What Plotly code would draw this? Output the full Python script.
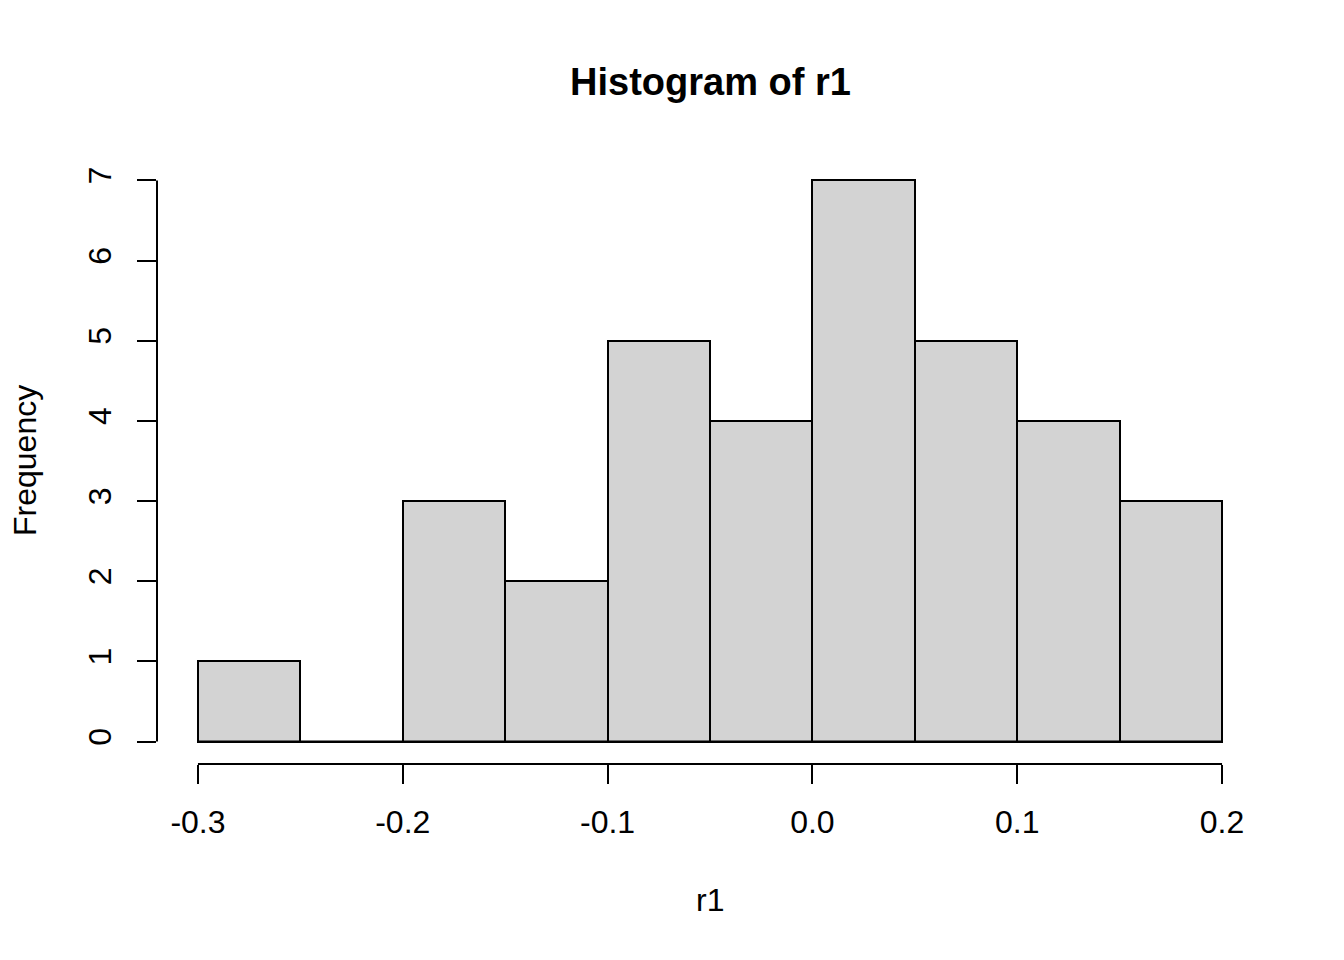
import plotly.graph_objects as go

# Histogram data: bin edges and counts
bin_edges = [-0.30, -0.25, -0.20, -0.15, -0.10, -0.05, 0.00, 0.05, 0.10, 0.15, 0.20]
counts = [1, 0, 3, 2, 5, 4, 7, 5, 4, 3]
x_tick_vals = [-0.3, -0.2, -0.1, 0.0, 0.1, 0.2]
x_tick_text = ["-0.3", "-0.2", "-0.1", "0.0", "0.1", "0.2"]
y_tick_vals = [0, 1, 2, 3, 4, 5, 6, 7]

FONT = "Liberation Sans, Arial, sans-serif"

centers = [(a + b) / 2 for a, b in zip(bin_edges[:-1], bin_edges[1:])]
widths = [b - a for a, b in zip(bin_edges[:-1], bin_edges[1:])]

x_span = bin_edges[-1] - bin_edges[0]
y_max = max(counts)
x_range = [bin_edges[0] - 0.04 * x_span, bin_edges[-1] + 0.04 * x_span]
y_range = [0 - 0.04 * y_max, y_max + 0.04 * y_max]

fig = go.Figure()
fig.add_trace(go.Bar(
    x=centers, y=counts, width=widths,
    marker=dict(color="#D3D3D3", line=dict(color="black", width=2)),
    showlegend=False, hoverinfo="skip",
))
# baseline along bottom of bars (shows empty bins like R)
fig.add_trace(go.Scatter(
    x=[bin_edges[0], bin_edges[-1]], y=[0, 0], mode="lines",
    line=dict(color="black", width=2), showlegend=False, hoverinfo="skip",
))

PH = 607.0
PW = 1106.0
fig.update_layout(
    width=1344, height=960,
    paper_bgcolor="white", plot_bgcolor="white",
    margin=dict(l=149, r=89, t=149.5, b=203.5),
    font=dict(family=FONT, size=32, color="black"),
    bargap=0,
    xaxis=dict(
        range=x_range, tickvals=x_tick_vals, ticktext=x_tick_text,
        ticks="outside", ticklen=19, tickwidth=2, tickcolor="black",
        showgrid=False, zeroline=False, showline=False,
        tickfont=dict(size=32, family=FONT), ticklabelstandoff=11,
    ),
    yaxis=dict(
        range=y_range, tickvals=y_tick_vals,
        ticks="outside", ticklen=19, tickwidth=2, tickcolor="black",
        showgrid=False, zeroline=False, showline=False,
        tickangle=-90,
        tickfont=dict(size=32, family=FONT), ticklabelstandoff=13,
    ),
    shapes=[
        dict(type="line", xref="x", yref="paper",
             x0=x_tick_vals[0], x1=x_tick_vals[-1], y0=0, y1=0,
             line=dict(color="black", width=2)),
        dict(type="line", xref="paper", yref="y",
             x0=0, x1=0, y0=y_tick_vals[0], y1=y_tick_vals[-1],
             line=dict(color="black", width=2)),
    ],
    annotations=[
        dict(text="<b>Histogram of r1</b>", xref="paper", yref="paper",
             x=0.5, y=1 + (156.5 - 80) / PH, xanchor="center", yanchor="middle",
             showarrow=False, font=dict(size=38, family=FONT)),
        dict(text="r1", xref="paper", yref="paper",
             x=0.5, y=-(900 - 763.5) / PH, xanchor="center", yanchor="middle",
             showarrow=False, font=dict(size=32, family=FONT)),
        dict(text="Frequency", xref="paper", yref="paper",
             x=-(157 - 25) / PW, y=0.5, xanchor="center", yanchor="middle",
             textangle=-90, showarrow=False, font=dict(size=32, family=FONT)),
    ],
)

fig.write_html("out.html")
